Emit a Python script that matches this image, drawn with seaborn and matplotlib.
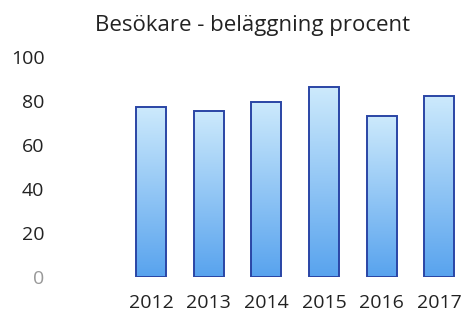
import numpy as np
import pandas as pd
import matplotlib
matplotlib.use("Agg")
import matplotlib.pyplot as plt
from matplotlib.colors import LinearSegmentedColormap
import seaborn as sns

# data
years = ["2012", "2013", "2014", "2015", "2016", "2017"]
occupancy = [77.4, 75.5, 79.7, 86.2, 73.2, 82.3]
y_ticks = [0, 20, 40, 60, 80, 100]

df = pd.DataFrame({"year": years, "pct": occupancy})

sns.set_style("white")
plt.rcParams["font.family"] = ["Open Sans", "DejaVu Sans"]

fig = plt.figure(figsize=(4.63, 3.17), dpi=100)
ax = fig.add_axes([118 / 463, 40 / 317, 345 / 463, 220 / 317])

sns.barplot(data=df, x="year", y="pct", ax=ax, width=0.52,
            color="#7cbdf3", edgecolor="#2a45a5", linewidth=1.4)

# vertical gradient inside each bar
grad = LinearSegmentedColormap.from_list("bar", ["#58a3ee", "#cdeafc"])
g = np.linspace(0, 1, 256).reshape(-1, 1)
for p in ax.patches:
    x0, y0 = p.get_x(), p.get_y()
    w, h = p.get_width(), p.get_height()
    im = ax.imshow(g, cmap=grad, origin="lower", aspect="auto",
                   extent=[x0, x0 + w, y0, y0 + h], zorder=p.get_zorder() - 0.1)
    im.set_clip_path(p)
    p.set_facecolor("none")

ax.set_xlim(-0.572, 5.41)
ax.set_ylim(0, 100)
ax.set_yticks(y_ticks)
ax.set_yticklabels([str(t) for t in y_ticks])
ax.set_xlabel("")
ax.set_ylabel("")
sns.despine(ax=ax, left=True, bottom=True)
ax.tick_params(axis="y", length=0, pad=53, labelsize=14, labelcolor="#222222")
ax.tick_params(axis="x", length=0, pad=12, labelsize=14, labelcolor="#222222")
ax.get_yticklabels()[0].set_color("#999999")

fig.text(253 / 463, 1 - 25 / 317, "Besökare - beläggning procent",
         ha="center", va="center", fontsize=16, color="#222222")

fig.savefig("out.png", dpi=100)
